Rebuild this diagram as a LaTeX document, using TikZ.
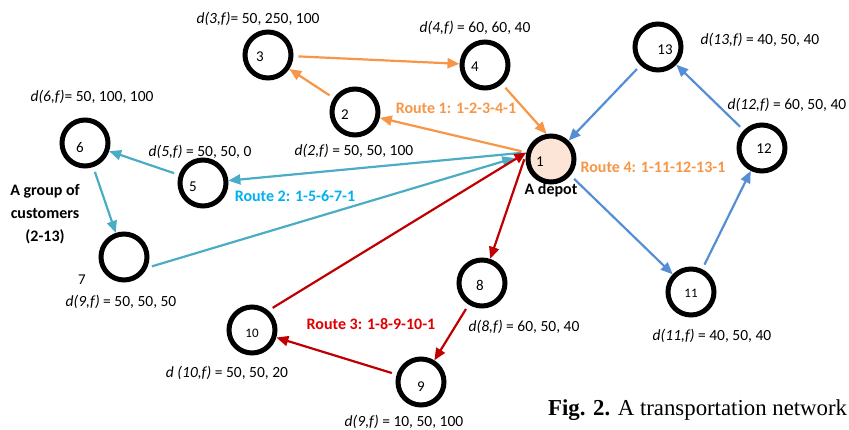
\documentclass[tikz,border=0pt]{standalone}
\usepackage{fontspec}
\setmainfont{Carlito}
\newfontfamily\capfont{Liberation Serif}
\usetikzlibrary{arrows.meta}
\definecolor{routeorange}{HTML}{F79646}
\definecolor{routeteal}{HTML}{4BACC6}
\definecolor{routeblue}{HTML}{558ED5}
\definecolor{routered}{HTML}{C00000}
\definecolor{textcyan}{HTML}{00B0F0}
\definecolor{textred}{HTML}{E00000}
\definecolor{depotfill}{HTML}{FCE4D6}
\begin{document}
\begin{tikzpicture}[x=1pt, y=-1pt,
	cust/.style={circle, draw, line width=5pt, minimum size=46pt, inner sep=0pt},
	num/.style={font=\fontsize{15}{15}\selectfont},
	lab/.style={font=\fontsize{15.5}{18}\selectfont},
	routelab/.style={font=\bfseries\fontsize{16}{18}\selectfont},
	arc/.style={line width=2.2pt, -{Triangle[length=12pt,width=10pt]}, shorten <=5pt}]
			\useasboundingbox (0, 0) rectangle (849, 429);
			
			\node[cust, fill=depotfill, label={[num, xshift=-11pt, yshift=-3pt]center:1}] (n1) at (551, 159) {};
			\node[cust, label={[num, xshift=-10pt, yshift=-3pt]center:2}] (n2) at (355, 112) {};
			\node[cust, label={[num, xshift=-8pt, yshift=-2pt]center:3}] (n3) at (268, 55) {};
			\node[cust, label={[num, xshift=-10pt, yshift=-2pt]center:4}] (n4) at (485, 65) {};
			\node[cust, label={[num, xshift=-10pt, yshift=-4pt]center:5}] (n5) at (203, 183) {};
			\node[cust, label={[num, xshift=-5pt, yshift=-4pt]center:6}] (n6) at (85, 143) {};
			\node[cust] (n7) at (124, 257) {};
			\node[cust, label={[num, xshift=-2pt, yshift=-2pt]center:8}] (n8) at (482, 283) {};
			\node[cust, label={[num, yshift=-5pt]center:9}] (n9) at (421, 382) {};
			\node[cust, label={[num, font=\fontsize{13}{13}\selectfont, yshift=-3pt]center:10}] (n10) at (252, 330) {};
			\node[cust, label={[num, font=\fontsize{13}{13}\selectfont, yshift=-1pt]center:11}] (n11) at (691, 292) {};
			\node[cust, label={[num, xshift=2pt, yshift=-1pt]center:12}] (n12) at (762, 148) {};
			\node[cust, label={[num, xshift=7pt, yshift=-3pt]center:13}] (n13) at (658, 47) {};
			
			\draw[arc, routeorange] (n1.165) -- (n2);
			\draw[arc, routeorange] (n2) -- (n3);
			\draw[arc, routeorange] (n3) -- (n4);
			\draw[arc, routeorange] (n4) -- (n1.100);
			
			\draw[arc, routeteal] (n1.165) -- (n5);
			\draw[arc, routeteal] (n5) -- (n6);
			\draw[arc, routeteal] (n6) -- (n7);
			\draw[arc, routeteal, shorten >=12pt] (n7.-25) -- (n1.170);
			
			\draw[arc, routered] (n1.170) -- (n8);
			\draw[arc, routered] (n8) -- (n9);
			\draw[arc, routered] (n9) -- (n10);
			\draw[arc, routered] (n10.50) -- (n1.165);
			
			\draw[arc, routeblue] (n1.-40) -- (n11);
			\draw[arc, routeblue] (n11) -- (n12);
			\draw[arc, routeblue] (n12) -- (n13);
			\draw[arc, routeblue] (n13) -- (n1);
			
			\node[lab] (d3) at (258, 19) {\textit{d(3,f)}= 50, 250, 100};
			\node[lab] (d4) at (475, 28) {\textit{d(4,f)} = 60, 60, 40};
			\node[lab] (d13) at (760, 40) {\textit{d(13,f)} = 40, 50, 40};
			\node[lab] (d12) at (787, 105) {\textit{d(12,f)} = 60, 50, 40};
			\node[lab] (d6) at (92, 97) {\textit{d(6,f)}= 50, 100, 100};
			\node[lab] (d5) at (200, 152) {\textit{d(5,f)} = 50, 50, 0};
			\node[lab] (d2) at (354, 151) {\textit{d(2,f)} = 50, 50, 100};
			\node[lab] (d7) at (121, 302) {\textit{d(9,f)} = 50, 50, 50};
			\node[lab] (d10) at (227, 373) {\textit{d (10,f)} = 50, 50, 20};
			\node[lab] (d8) at (524, 327) {\textit{d(8,f)} = 60, 50, 40};
			\node[lab] (d9) at (404, 422) {\textit{d(9,f)} = 10, 50, 100};
			\node[lab] (d11) at (712, 336) {\textit{d(11,f)} = 40, 50, 40};
			\node[num] (seven) at (82, 280) {7};
			
			\node[routelab, routeorange] (r1) at (456, 108) {Route 1: 1-2-3-4-1};
			\node[routelab, textcyan] (r2) at (295, 196) {Route 2: 1-5-6-7-1};
			\node[routelab, textred] (r3) at (371, 324) {Route 3: 1-8-9-10-1};
			\node[routelab, routeorange] (r4) at (653, 167) {Route 4: 1-11-12-13-1};
			\node[routelab] (depot) at (551, 190) {A depot};
			\node[routelab, align=center, font=\bfseries\fontsize{16}{23}\selectfont] (group) at (45, 214) {A group of\\customers\\(2-13)};
			
			\node[anchor=base west, inner sep=0pt, font=\capfont\fontsize{22.8}{24}\selectfont] (caption) at (548, 415) {\textbf{Fig. 2.} A transportation network};
			\end{tikzpicture}
\end{document}
